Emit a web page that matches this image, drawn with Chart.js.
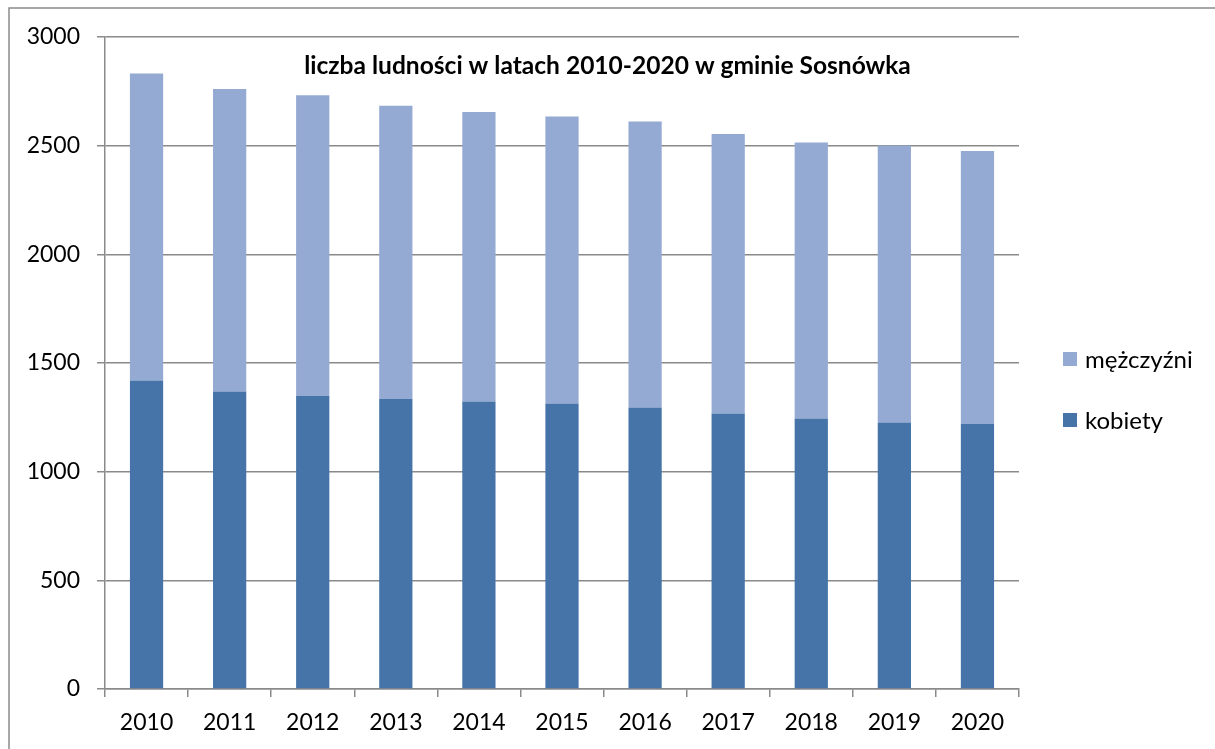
<!DOCTYPE html>
<html>
<head>
<meta charset="utf-8">
<script src="https://cdn.jsdelivr.net/npm/chart.js@4"></script>
<style>
html,body{margin:0;padding:0;background:#fff;overflow:hidden;}
canvas{display:block;}
</style>
</head>
<body>
<canvas id="c" width="1215" height="749"></canvas>
<script>
const years = ['2010','2011','2012','2013','2014','2015','2016','2017','2018','2019','2020'];
const kobiety = [1419,1369,1349,1334,1323,1314,1295,1268,1245,1226,1219];
const mezczyzni = [1413,1392,1383,1350,1332,1320,1316,1286,1269,1275,1257];
const yTicks = [0,500,1000,1500,2000,2500,3000];
const titleText = 'liczba ludności w latach 2010-2020 w gminie Sosnówka';
const seriesNames = ['kobiety','mężczyźni'];
const colors = ['#4674A8','#95AAD3'];

const FONT = 'Lato, "Noto Sans", sans-serif';

const decor = {
  id: 'decor',
  beforeDraw(chart) {
    const ctx = chart.ctx;
    ctx.save();
    ctx.fillStyle = '#fff';
    ctx.fillRect(0,0,chart.width,chart.height);
    ctx.strokeStyle = '#8a8a8a';
    ctx.lineWidth = 1.5;
    ctx.beginPath();
    ctx.moveTo(9, 760);
    ctx.lineTo(9, 8);
    ctx.lineTo(1220, 8);
    ctx.stroke();
    ctx.restore();
  },
  afterDraw(chart) {
    const ctx = chart.ctx;
    ctx.save();
    // title
    ctx.fillStyle = '#000';
    ctx.font = 'bold 20px ' + FONT;
    const w = ctx.measureText(titleText).width;
    const size = 20 * 607 / w;
    ctx.font = 'bold ' + size.toFixed(2) + 'px ' + FONT;
    ctx.textAlign = 'center';
    ctx.textBaseline = 'middle';
    ctx.fillText(titleText, 607.5, 66);
    // legend (top item = last series)
    ctx.font = '24px ' + FONT;
    ctx.textAlign = 'left';
    const items = [{name: seriesNames[1], color: colors[1], y: 359},
                   {name: seriesNames[0], color: colors[0], y: 420}];
    items.forEach(it => {
      ctx.fillStyle = it.color;
      ctx.fillRect(1063, it.y - 7, 14, 14);
      ctx.fillStyle = '#000';
      ctx.fillText(it.name, 1085, it.y + 1);
    });
    ctx.restore();
  }
};

new Chart(document.getElementById('c'), {
  type: 'bar',
  data: {
    labels: years,
    datasets: [
      {label: seriesNames[0], data: kobiety, backgroundColor: colors[0], borderWidth: 0},
      {label: seriesNames[1], data: mezczyzni, backgroundColor: colors[1], borderWidth: 0}
    ]
  },
  options: {
    responsive: false,
    devicePixelRatio: 1,
    animation: false,
    layout: {padding: {top: 37, right: 196, left: 0, bottom: 0}},
    datasets: {bar: {barPercentage: 0.4, categoryPercentage: 1}},
    plugins: {legend: {display: false}, title: {display: false}, tooltip: {enabled: false}},
    scales: {
      x: {
        stacked: true,
        afterFit(s) { s.height = 60; },
        grid: {display: true, drawOnChartArea: false, drawTicks: true, tickLength: 8, color: '#8a8a8a', lineWidth: 1.5, offset: true},
        border: {display: true, color: '#8a8a8a', width: 1.5},
        ticks: {color: '#000', font: {family: FONT, size: 23}, padding: 12, maxRotation: 0}
      },
      y: {
        stacked: true,
        min: 0, max: 3000,
        afterFit(s) { s.width = 105; },
        afterBuildTicks(s) { s.ticks = yTicks.map(v => ({value: v})); },
        grid: {color: '#8a8a8a', lineWidth: 1.5, tickLength: 8, drawTicks: true},
        border: {display: true, color: '#8a8a8a', width: 1.5},
        ticks: {color: '#000', font: {family: FONT, size: 23}, padding: 17, callback: v => String(v)}
      }
    }
  },
  plugins: [decor]
});
</script>
</body>
</html>
